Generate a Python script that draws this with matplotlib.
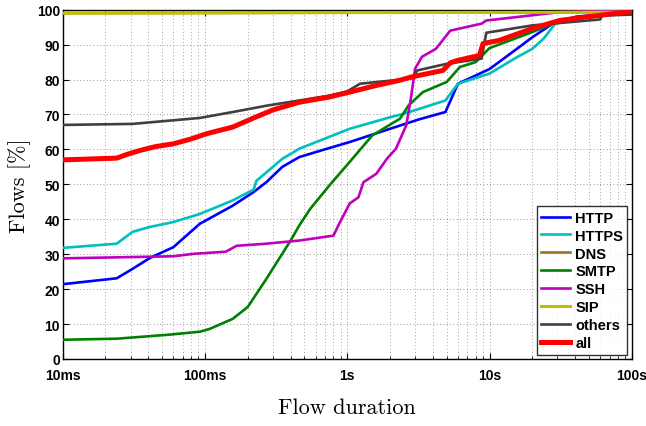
import matplotlib
matplotlib.use("Agg")
import matplotlib.pyplot as plt
from matplotlib.ticker import LogLocator, FixedLocator, NullFormatter

# ---- data (x in seconds, y in % of flows) ----
http_x = [0.01, 0.024, 0.031, 0.041, 0.06, 0.092, 0.157, 0.22, 0.27, 0.35, 0.46, 0.75, 1.04, 2.0, 3.2, 4.9, 6.0, 10.0, 15.0, 20.0, 29.0, 41.0, 100.0]
http_y = [21.4, 23.1, 25.8, 28.9, 32.0, 38.7, 43.9, 47.8, 50.6, 55.0, 57.8, 60.4, 62.1, 65.9, 68.6, 70.7, 78.8, 83.0, 88.3, 92.1, 96.5, 98.0, 99.5]

https_x = [0.01, 0.024, 0.031, 0.041, 0.06, 0.092, 0.157, 0.22, 0.23, 0.35, 0.46, 0.75, 1.04, 2.0, 2.5, 4.9, 6.0, 10.0, 15.0, 20.0, 24.0, 29.0, 41.0, 100.0]
https_y = [31.8, 33.0, 36.4, 37.8, 39.2, 41.5, 45.4, 48.5, 51.0, 57.3, 60.2, 63.6, 65.9, 69.2, 70.2, 74.0, 78.8, 81.7, 86.0, 88.8, 91.7, 96.0, 97.3, 99.5]

dns_x = [0.01, 100.0]
dns_y = [99.0, 99.3]

smtp_x = [0.01, 0.024, 0.054, 0.092, 0.108, 0.157, 0.2, 0.27, 0.4, 0.46, 0.55, 0.75, 1.04, 1.5, 2.35, 2.7, 3.4, 5.0, 6.2, 8.0, 10.0, 20.0, 30.0, 100.0]
smtp_y = [5.5, 5.8, 6.9, 7.8, 8.6, 11.5, 14.9, 22.9, 33.9, 38.2, 43.0, 49.7, 56.4, 64.0, 68.8, 72.6, 76.4, 79.3, 83.6, 85.0, 89.0, 93.6, 96.5, 99.8]

ssh_x = [0.01, 0.06, 0.083, 0.14, 0.167, 0.27, 0.46, 0.8, 0.89, 0.97, 1.04, 1.2, 1.3, 1.6, 1.9, 2.2, 2.6, 2.8, 3.0, 3.35, 4.2, 5.3, 8.8, 9.5, 20.0, 31.0, 100.0]
ssh_y = [28.8, 29.4, 30.1, 30.7, 32.4, 33.0, 33.9, 35.3, 39.2, 42.1, 44.5, 46.3, 50.6, 53.0, 57.3, 60.2, 66.9, 74.5, 83.1, 86.5, 88.8, 94.0, 96.0, 96.9, 98.4, 99.3, 99.8]

sip_x = [0.01, 100.0]
sip_y = [99.0, 99.3]

others_x = [0.01, 0.031, 0.092, 0.157, 0.27, 0.46, 0.75, 1.0, 1.23, 2.7, 2.9, 3.1, 5.0, 8.8, 9.5, 20.0, 60.0, 62.0, 100.0]
others_y = [67.0, 67.3, 69.0, 70.7, 72.5, 74.0, 75.4, 76.6, 78.8, 80.2, 80.5, 82.6, 84.5, 86.0, 93.4, 95.5, 97.2, 98.3, 98.6]

all_x = [0.01, 0.024, 0.028, 0.035, 0.045, 0.06, 0.08, 0.103, 0.157, 0.22, 0.3, 0.46, 0.75, 1.04, 1.6, 2.35, 2.8, 4.7, 5.3, 6.0, 8.5, 9.0, 11.7, 20.0, 31.0, 60.0, 100.0]
all_y = [57.0, 57.5, 58.5, 59.7, 60.8, 61.6, 63.0, 64.5, 66.4, 69.0, 71.3, 73.5, 75.0, 76.4, 78.3, 79.8, 80.7, 82.6, 84.8, 85.5, 86.9, 90.3, 91.2, 94.6, 96.9, 98.4, 99.5]

labels = ["HTTP", "HTTPS", "DNS", "SMTP", "SSH", "SIP", "others", "all"]
x_ticks = [0.01, 0.1, 1, 10, 100]
x_ticklabels = ["10ms", "100ms", "1s", "10s", "100s"]
y_ticks = [0, 10, 20, 30, 40, 50, 60, 70, 80, 90, 100]

series = [
    (http_x, http_y, "#0000ff", 1.9, 3),
    (https_x, https_y, "#00bfbf", 1.9, 3),
    (dns_x, dns_y, "#a0701f", 1.9, 2),
    (smtp_x, smtp_y, "#008000", 1.9, 3),
    (ssh_x, ssh_y, "#bf00bf", 1.9, 3),
    (sip_x, sip_y, "#bfbf00", 2.2, 3),
    (others_x, others_y, "#404040", 1.9, 3),
    (all_x, all_y, "#ff0000", 3.6, 4),
]

fig = plt.figure(figsize=(6.46, 4.27), dpi=100)
ax = fig.add_axes([0.097, 0.157, 0.881, 0.818])

for (xs, ys, c, lw, z), lab in zip(series, labels):
    ax.plot(xs, ys, color=c, lw=lw, label=lab, zorder=z, solid_joinstyle="round")

ax.set_xscale("log")
ax.set_xlim(0.01, 100)
ax.set_ylim(0, 100)
ax.xaxis.set_major_locator(FixedLocator(x_ticks))
ax.set_xticklabels(x_ticklabels)
ax.xaxis.set_minor_locator(LogLocator(base=10, subs=range(2, 10)))
ax.xaxis.set_minor_formatter(NullFormatter())
ax.set_yticks(y_ticks)

ax.grid(True, which="major", axis="both", linestyle=(0, (1, 3)), color="#777777", lw=0.6)
ax.grid(True, which="minor", axis="x", linestyle=(0, (1, 3)), color="#888888", lw=0.6)

ax.tick_params(axis="both", which="both", direction="in", top=True, right=True)
ax.tick_params(axis="both", which="major", length=4, width=0.8, labelsize=10)
ax.tick_params(axis="x", which="major", pad=6.5)
ax.tick_params(axis="y", which="major", pad=2)
ax.tick_params(axis="both", which="minor", length=2, width=0.6)
for lbl in ax.get_xticklabels() + ax.get_yticklabels():
    lbl.set_fontweight("bold")
    lbl.set_family("Liberation Sans")
for sp in ax.spines.values():
    sp.set_linewidth(1.0)

ax.set_xlabel("Flow duration", family="cmr10", fontsize=16, labelpad=11)
ax.set_ylabel("Flows [%]", family="cmr10", fontsize=16, labelpad=4)

leg = ax.legend(loc="lower right", frameon=True, fancybox=False, edgecolor="black",
                prop={"family": "Liberation Sans", "weight": "bold", "size": 10.5},
                handlelength=2.0, handletextpad=0.35, labelspacing=0.27,
                borderpad=0.3, borderaxespad=0.3)
leg.get_frame().set_linewidth(1.0)
leg.set_zorder(10)

fig.savefig("out.png", dpi=100)
